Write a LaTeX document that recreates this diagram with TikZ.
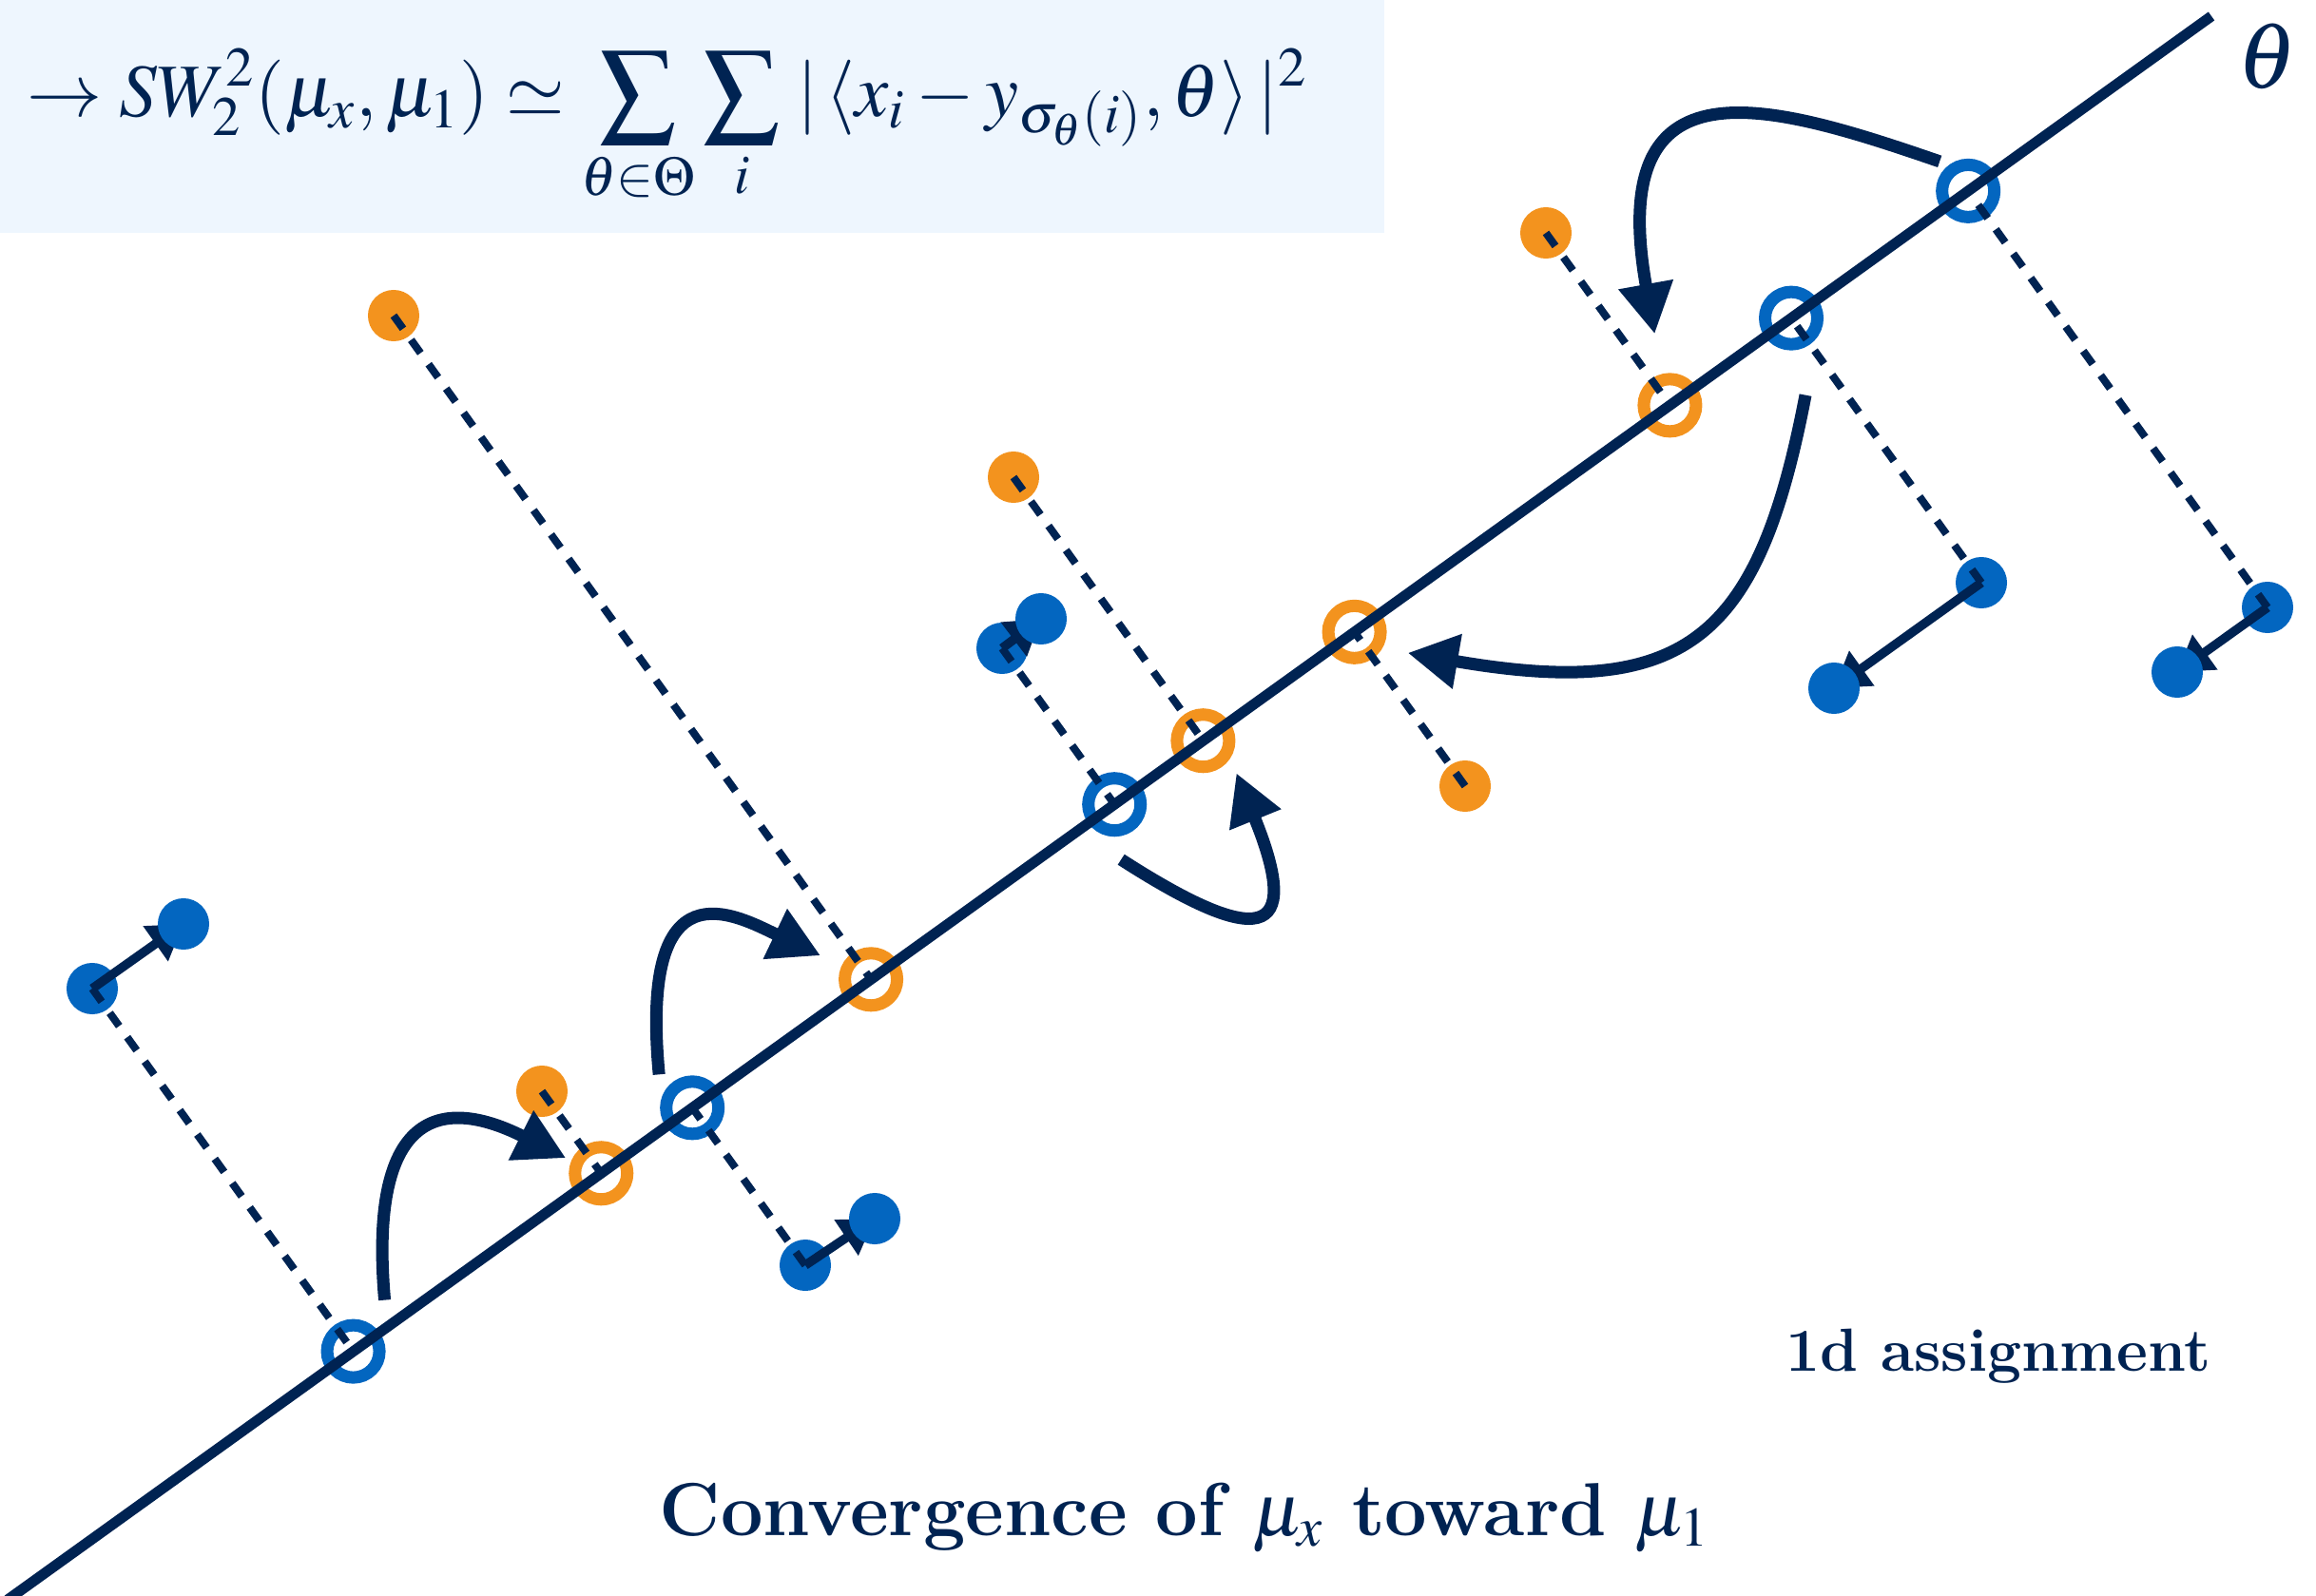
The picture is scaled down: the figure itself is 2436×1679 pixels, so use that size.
\documentclass[tikz,border=0pt]{standalone}
\usepackage{amsmath,amssymb}
\usepackage{mathptmx}
\renewcommand{\rmdefault}{lmr}
\usetikzlibrary{arrows.meta,calc}

\definecolor{navy}{RGB}{0,35,82}
\definecolor{sworange}{RGB}{243,147,30}
\definecolor{swblue}{RGB}{3,102,192}
\definecolor{boxblue}{RGB}{238,246,254}

\begin{document}
\begin{tikzpicture}[
    x=0.01cm, y=-0.01cm,
    srcdot/.style={circle, fill=#1, inner sep=0pt, minimum size=0.54cm},
    projring/.style={circle, draw=#1, line width=0.13cm, inner sep=0pt, minimum size=0.55cm},
    projection/.style={navy, line width=0.08cm, dash pattern=on 0.17cm off 0.145cm},
    thetaline/.style={navy, line width=0.11cm},
    update/.style={navy, line width=0.095cm, -{Triangle[length=0.36cm, width=0.43cm]}},
    match/.style={navy, line width=0.13cm, -{Triangle[length=0.53cm, width=0.55cm]}},
    caption/.style={text=navy, inner sep=0pt}
  ]
    \useasboundingbox (0,0) rectangle (2436,1679);

    \coordinate (L1) at (2326,17);
    \coordinate (L2) at (8,1683);
    \foreach \n/\x/\y in {1/414/332, 2/1066/502, 3/1626/245, 4/1541/827, 5/570/1148}
      \coordinate (o\n) at (\x,\y);
    \foreach \n/\x/\y/\mx/\my in {1/97/1040/193/972, 2/847/1331/920/1282, 3/1054/682/1095/651,
                                  4/2084/613/1929/724, 5/2385/639/2290/707}
      {\coordinate (b\n) at (\x,\y); \coordinate (m\n) at (\mx,\my);}

    \fill[boxblue] (0,0) rectangle (1456,245);
    \node[caption, anchor=base west, font=\fontsize{22.5}{27}\selectfont] (swloss) at (28,123)
      {$\displaystyle \rightarrow SW_2^2(\mu_x,\mu_1)\simeq\sum_{\theta\in\Theta}\sum_i
        \,|\,\langle x_i-y_{\sigma_\theta(i)},\theta\rangle\,|^2$};

    \foreach \n in {1,...,5} {
      \node[projring=sworange] (ro\n) at ($(L1)!(o\n)!(L2)$) {};
      \node[projring=swblue] (rb\n) at ($(L1)!(b\n)!(L2)$) {};
    }
    \foreach \n in {1,...,5} {
      \node[srcdot=sworange] (do\n) at (o\n) {};
      \node[srcdot=swblue] (db\n) at (b\n) {};
    }
    \foreach \n in {1,...,5} {
      \draw[projection] (do\n.center) -- (ro\n.center);
      \draw[projection] (db\n.center) -- (rb\n.center);
    }
    \draw[thetaline] (L2) -- (L1);
    \foreach \n in {1,...,5} {
      \draw[update] (db\n.center) -- (m\n);
      \node[srcdot=swblue] (dm\n) at (m\n) {};
    }

    \draw[match] ($(rb1)+(33,-54)$) .. controls +(-19,-218) and +(-115,-58) .. ($(ro5)+(-37,-16)$);
    \draw[match] ($(rb2)+(-35,-35)$) .. controls +(-21,-225) and +(-90,-43) .. ($(ro1)+(-53,-25)$);
    \draw[match] ($(rb3)+(7,58)$) .. controls +(143,92) and +(72,177) .. ($(ro2)+(35,34)$);
    \draw[match] ($(rb4)+(15,81)$) .. controls +(-49,255) and +(295,51) .. ($(ro4)+(56,22)$);
    \draw[match] ($(rb5)+(-30,-31)$) .. controls +(-180,-62) and +(-53,-295) .. ($(ro3)+(-16,-75)$);

    \node[caption, font=\fontsize{28}{32}\selectfont] (thetalab) at (2385,59) {$\theta$};
    \node[caption, anchor=base east, font=\fontsize{18.2}{22}\selectfont\bfseries] (assign) at (2326,1442) {1d assignment};
    \node[caption, anchor=base, font=\fontsize{22.5}{27}\selectfont\bfseries] (conv) at (1246,1615)
      {Convergence of $\mu_x$ toward $\mu_1$};
  \end{tikzpicture}
\end{document}
